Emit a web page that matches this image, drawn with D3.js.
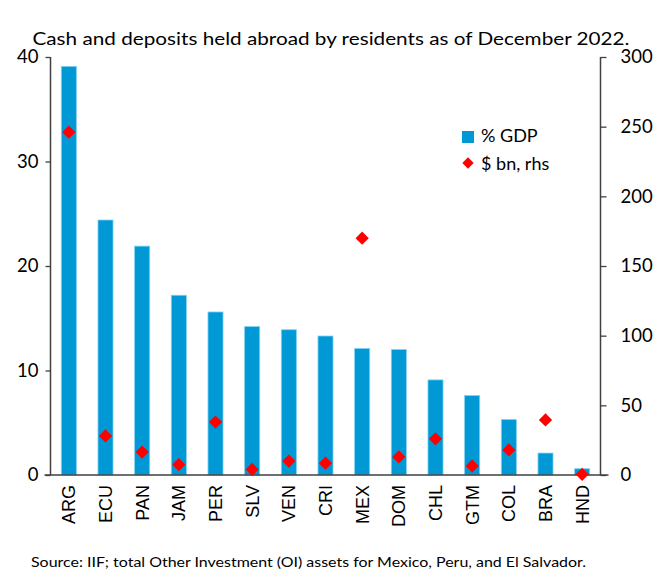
<!DOCTYPE html>
<html><head><meta charset="utf-8">
<script src="https://cdn.jsdelivr.net/npm/d3@7"></script>
<style>body{margin:0;background:#fff}svg{display:block}text{font-family:Lato,"Open Sans",sans-serif;fill:#000}</style>
</head><body><svg id="c" width="661" height="585"></svg>
<script>
const categories = ["ARG","ECU","PAN","JAM","PER","SLV","VEN","CRI","MEX","DOM","CHL","GTM","COL","BRA","HND"];
const gdpShare = [39.1,24.4,21.9,17.2,15.6,14.2,13.9,13.3,12.1,12.0,9.1,7.6,5.3,2.1,0.6];
const usdBn = [246,28,16.5,7.5,38,4,10,8.5,170,13,26,6.5,18,39.5,0.5];
const leftTicks = [0,10,20,30,40];
const rightTicks = [0,50,100,150,200,250,300];
const titleText = "Cash and deposits held abroad by residents as of December 2022.";
const sourceText = "Source: IIF; total Other Investment  (OI) assets for Mexico, Peru, and El Salvador.";
const legendLabels = ["% GDP","$ bn, rhs"];

const svg = d3.select("#c");
const L = 50.5, R = 600.5, T = 57, B = 475;
const x = d3.scaleBand().domain(categories).range([L, R]).paddingInner(0.59).paddingOuter(0.295);
const yL = d3.scaleLinear().domain([0,40]).range([B,T]);
const yR = d3.scaleLinear().domain([0,300]).range([B,T]);
const axisCol = "#404040";

svg.append("text").attr("x",331).attr("y",45).attr("text-anchor","middle")
  .style("font-size","17.5px").attr("textLength",597).attr("lengthAdjust","spacingAndGlyphs").text(titleText);

// bars
svg.append("g").selectAll("rect").data(categories).join("rect")
  .attr("x",d=>x(d)).attr("width",x.bandwidth())
  .attr("y",(d,i)=>yL(gdpShare[i])).attr("height",(d,i)=>B-yL(gdpShare[i]))
  .attr("fill","#0099d6").attr("stroke","#7fd0ef").attr("stroke-width",0.8);

// axes
const gl = svg.append("g").attr("transform",`translate(${L},0)`).call(d3.axisLeft(yL).tickValues(leftTicks).tickSize(5).tickPadding(6).tickFormat(d3.format("d")));
const gr = svg.append("g").attr("transform",`translate(${R},0)`).call(d3.axisRight(yR).tickValues(rightTicks).tickSize(6).tickPadding(14).tickFormat(d3.format("d")));
[gl,gr].forEach(g=>{
  g.select(".domain").attr("stroke",axisCol).attr("stroke-width",1.5).attr("d",`M0,${T}V${B}`);
  g.selectAll(".tick line").attr("stroke",axisCol).attr("stroke-width",1.3);
  g.selectAll(".tick text").style("font-size","18.5px").style("font-family","Lato,sans-serif").attr("fill","#000");
});
gl.selectAll(".tick text").attr("x",-12);

const gb = svg.append("g").attr("transform",`translate(0,${B})`).call(d3.axisBottom(x).tickSize(0).tickPadding(10));
gb.select(".domain").attr("stroke",axisCol).attr("stroke-width",1.5).attr("d",`M${L-6},0H${R+8}`);
gb.selectAll(".tick text").attr("transform","rotate(-90)").attr("text-anchor","end")
  .attr("x",-10).attr("y",0).attr("dy","0.36em")
  .style("font-family","'Liberation Sans',Arial,sans-serif").style("font-size","18px").attr("fill","#000");

// diamonds
svg.append("g").selectAll("path").data(categories).join("path")
  .attr("d",d3.symbol(d3.symbolSquare,88))
  .attr("transform",(d,i)=>`translate(${x(d)+x.bandwidth()/2},${yR(usdBn[i])}) rotate(45)`)
  .attr("fill","#ff0000");

// legend
const lg = svg.append("g");
lg.append("rect").attr("x",462).attr("y",131).attr("width",12).attr("height",12).attr("fill","#0099d6");
lg.append("text").attr("x",481).attr("y",142).style("font-size","18px").text(legendLabels[0]);
lg.append("path").attr("d",d3.symbol(d3.symbolSquare,64)).attr("transform","translate(468,163) rotate(45)").attr("fill","#ff0000");
lg.append("text").attr("x",481).attr("y",170).style("font-size","18px").text(legendLabels[1]);

svg.append("text").attr("x",31).attr("y",567).style("font-size","13.5px").attr("textLength",555).attr("lengthAdjust","spacingAndGlyphs").text(sourceText);
</script></body></html>
